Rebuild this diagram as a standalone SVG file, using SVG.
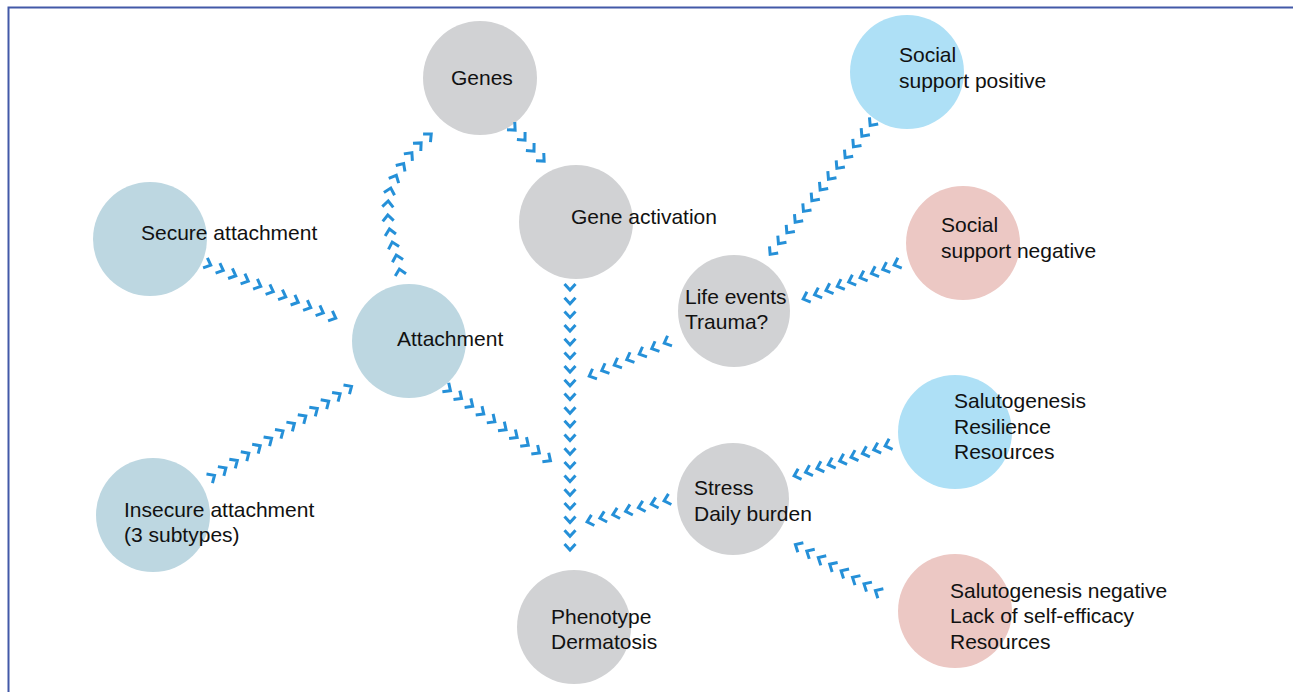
<svg xmlns="http://www.w3.org/2000/svg" width="1293" height="692" viewBox="0 0 1293 692">
<style>
.n-gray{fill:#d1d2d4}
.n-steel{fill:#bdd7e1}
.n-sky{fill:#aee0f6}
.n-pink{fill:#ecc8c4}
text{font-family:"Liberation Sans",Arial,Helvetica,sans-serif;font-size:21px;fill:#111}
.conn{fill:none;stroke:none;marker-start:url(#chev);marker-mid:url(#chev);marker-end:url(#chev)}
</style>
<defs>
<marker id="chev" markerUnits="userSpaceOnUse" markerWidth="16" markerHeight="16" viewBox="-8 -8 16 16" refX="0" refY="0" orient="auto" overflow="visible">
<path d="M-3,-5.5 L3,0 L-3,5.5" fill="none" stroke="#2590d8" stroke-width="3"/>
</marker>
</defs>
<rect width="1293" height="692" fill="#fff"/>
<path d="M8.5,692 V7.5 H1293" fill="none" stroke="#4259a8" stroke-width="2"/>

<g id="nodes-circles">
<g id="genes"><circle class="n-gray" cx="480" cy="78" r="57"/><text x="451" y="85">Genes</text></g>
<g id="gene-activation"><circle class="n-gray" cx="576" cy="222" r="57"/><text x="571" y="224">Gene activation</text></g>
<g id="secure"><circle class="n-steel" cx="150" cy="239" r="57"/><text x="141" y="240">Secure attachment</text></g>
<g id="attachment"><circle class="n-steel" cx="409" cy="341" r="57"/><text x="397" y="346">Attachment</text></g>
<g id="insecure"><circle class="n-steel" cx="153" cy="515" r="57"/><text x="124" y="517">Insecure attachment</text><text x="124" y="542">(3 subtypes)</text></g>
<g id="social-positive"><circle class="n-sky" cx="907" cy="72" r="57"/><text x="899" y="62">Social</text><text x="899" y="88">support positive</text></g>
<g id="social-negative"><circle class="n-pink" cx="963" cy="243" r="57"/><text x="941" y="232">Social</text><text x="941" y="258">support negative</text></g>
<g id="life-events"><circle class="n-gray" cx="734" cy="311" r="56"/><text x="685" y="304">Life events</text><text x="685" y="329">Trauma?</text></g>
<g id="salutogenesis"><circle class="n-sky" cx="955" cy="432" r="57"/><text x="954" y="408">Salutogenesis</text><text x="954" y="434">Resilience</text><text x="954" y="459">Resources</text></g>
<g id="stress"><circle class="n-gray" cx="733" cy="499" r="56"/><text x="694" y="495">Stress</text><text x="694" y="521">Daily burden</text></g>
<g id="salutogenesis-negative"><circle class="n-pink" cx="955" cy="611" r="57"/><text x="950" y="598">Salutogenesis negative</text><text x="950" y="623">Lack of self-efficacy</text><text x="950" y="649">Resources</text></g>
<g id="phenotype"><circle class="n-gray" cx="574" cy="627" r="57"/><text x="551" y="624">Phenotype</text><text x="551" y="649">Dermatosis</text></g>
</g>

<g id="connectors">
<polyline class="conn" points="208,264 220.5,269.3 233,274.6 245.5,279.9 258,285.2 270.5,290.5 283,295.8 295.5,301.1 308,306.4 320.5,311.7 333,317"/>
<polyline class="conn" points="212,477 223.4,469.6 234.8,462.2 246.3,454.8 257.7,447.3 269.1,439.9 280.5,432.5 291.9,425.1 303.3,417.7 314.8,410.2 326.2,402.8 337.6,395.4 349,388"/>
<polyline class="conn" points="400,272 397,258 393,245 390,232 388,218 388,204 390,191 395,178 402,166 410,155 419,145 429,136"/>
<polyline class="conn" points="513,128 523,138 532,149 542,159"/>
<polyline class="conn" points="570,287 570,300.7 570,314.4 570,328.1 570,341.7 570,355.4 570,369.1 570,382.8 570,396.5 570,410.2 570,423.8 570,437.5 570,451.2 570,464.9 570,478.6 570,492.3 570,505.9 570,519.6 570,533.3 570,547"/>
<polyline class="conn" points="448,389 459.1,396.8 470.2,404.6 481.3,412.3 492.4,420.1 503.6,427.9 514.7,435.7 525.8,443.4 536.9,451.2 548,459"/>
<polyline class="conn" points="667,342 654.5,347.5 642,353 629.5,358.5 617,364 604.5,369.5 592,375"/>
<polyline class="conn" points="667,500 654.2,503.5 641.3,507 628.5,510.5 615.7,514 602.8,517.5 590,521"/>
<polyline class="conn" points="872,123 863.7,133.8 855.3,144.5 847,155.3 838.7,166 830.3,176.8 822,187.5 813.7,198.3 805.3,209 797,219.8 788.7,230.5 780.3,241.3 772,252"/>
<polyline class="conn" points="897,264 885.6,268.3 874.3,272.5 862.9,276.8 851.5,281 840.1,285.3 828.8,289.5 817.4,293.8 806,298"/>
<polyline class="conn" points="888,445 876.6,448.8 865.3,452.5 853.9,456.3 842.5,460 831.1,463.8 819.8,467.5 808.4,471.3 797,475"/>
<polyline class="conn" points="878,592 866.6,585.4 855.1,578.9 843.7,572.3 832.3,565.7 820.9,559.1 809.4,552.6 798,546"/>
</g>
</svg>
